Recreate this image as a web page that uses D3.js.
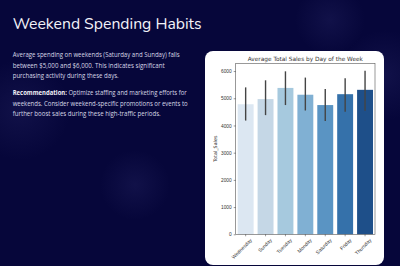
<!DOCTYPE html>
<html>
<head>
<meta charset="utf-8">
<script src="https://cdn.jsdelivr.net/npm/d3@7"></script>
<style>
  html, body { margin: 0; padding: 0; background: #07073a; overflow: hidden; }
  svg { display: block; }
</style>
</head>
<body>
<div id="page"></div>
<script>
// data
const days = ["Wednesday", "Sunday", "Tuesday", "Monday", "Saturday", "Friday", "Thursday"];
const avgSales = [4780, 4970, 5380, 5130, 4750, 5150, 5310];
const ciLow = [4180, 4380, 4750, 4550, 4160, 4500, 4540];
const ciHigh = [5400, 5660, 5990, 5760, 5340, 5740, 6010];
const yTicks = [0, 1000, 2000, 3000, 4000, 5000, 6000];
const barColors = ["#dce7f2", "#c5d7e6", "#a6c9de", "#80b0d3", "#5a94c3", "#3571aa", "#1e4f89"];

const para1 = [
  "Average spending on weekends (Saturday and Sunday) falls",
  "between $5,000 and $6,000. This indicates significant",
  "purchasing activity during these days."
];
const para2 = [
  ["Recommendation:", " Optimize staffing and marketing efforts for"],
  ["", "weekends. Consider weekend-specific promotions or events to"],
  ["", "further boost sales during these high-traffic periods."]
];
// measured line widths in the reference
const para1W = [167, 152, 106];
const para2W = [174, 175, 148];

const W = 400, H = 266;
const svg = d3.select("#page").append("svg")
  .attr("width", W).attr("height", H);

// background glow
const defs = svg.append("defs");
const glow = defs.append("radialGradient").attr("id", "glow");
glow.append("stop").attr("offset", "0%").attr("stop-color", "#262664").attr("stop-opacity", 0.35);
glow.append("stop").attr("offset", "100%").attr("stop-color", "#262664").attr("stop-opacity", 0);
svg.append("rect").attr("width", W).attr("height", H).attr("fill", "#06063a");
[[20, 110, 50], [135, 185, 35], [385, 75, 45], [330, 20, 35]].forEach(g => {
  svg.append("circle").attr("cx", g[0]).attr("cy", g[1]).attr("r", g[2]).attr("fill", "url(#glow)");
});

// heading + text
svg.append("text")
  .attr("x", 12.7).attr("y", 29)
  .attr("fill", "#f2f2f8")
  .attr("textLength", 189).attr("lengthAdjust", "spacingAndGlyphs")
  .style("font-family", "'Nunito', 'Open Sans', sans-serif")
  .style("font-size", "16.5px")
  .text("Weekend Spending Habits");

const txt = svg.append("g")
  .attr("fill", "#d8d8e6")
  .style("font-family", "'Open Sans', sans-serif")
  .style("font-size", "6.4px");

para1.forEach((l, i) => {
  txt.append("text").attr("x", 12.7).attr("y", 57 + i * 10.6)
    .attr("textLength", para1W[i]).attr("lengthAdjust", "spacingAndGlyphs")
    .text(l);
});
para2.forEach((l, i) => {
  const t = txt.append("text").attr("x", 12.7).attr("y", 95 + i * 10.6)
    .attr("textLength", para2W[i]).attr("lengthAdjust", "spacingAndGlyphs");
  if (l[0]) t.append("tspan").attr("font-weight", "bold").attr("fill", "#f0f0f6").text(l[0]);
  t.append("tspan").text(l[1]);
});

// card
svg.append("rect")
  .attr("x", 205).attr("y", 51)
  .attr("width", 179).attr("height", 214)
  .attr("rx", 8)
  .attr("fill", "#ffffff");

// chart
const plot = {left: 235.7, right: 375, top: 63.3, bottom: 234.3};
const x = d3.scaleBand()
  .domain(days)
  .range([plot.left, plot.right])
  .paddingInner(0.2).paddingOuter(0.1);
const y = d3.scaleLinear()
  .domain([0, 6285])
  .range([plot.bottom, plot.top]);

const chart = svg.append("g").style("font-family", "'DejaVu Sans', sans-serif");

chart.selectAll("rect.bar")
  .data(days)
  .join("rect")
  .attr("class", "bar")
  .attr("x", d => x(d))
  .attr("width", x.bandwidth())
  .attr("y", (d, i) => y(avgSales[i]))
  .attr("height", (d, i) => y(0) - y(avgSales[i]))
  .attr("fill", (d, i) => barColors[i]);

chart.selectAll("line.err")
  .data(days)
  .join("line")
  .attr("class", "err")
  .attr("x1", d => x(d) + x.bandwidth() / 2)
  .attr("x2", d => x(d) + x.bandwidth() / 2)
  .attr("y1", (d, i) => y(ciLow[i]))
  .attr("y2", (d, i) => y(ciHigh[i]))
  .attr("stroke", "#444")
  .attr("stroke-width", 1.4);

// frame
chart.append("rect")
  .attr("x", plot.left).attr("y", plot.top)
  .attr("width", plot.right - plot.left).attr("height", plot.bottom - plot.top)
  .attr("fill", "none").attr("stroke", "#555").attr("stroke-width", 0.6);

const yAxis = chart.append("g")
  .attr("transform", `translate(${plot.left},0)`)
  .call(d3.axisLeft(y).tickValues(yTicks).tickSize(2).tickPadding(2).tickFormat(d3.format("d")));
yAxis.select(".domain").remove();
yAxis.selectAll("text").attr("fill", "#333").style("font-size", "4.8px");
yAxis.selectAll("line").attr("stroke", "#333").attr("stroke-width", 0.5);

const xAxis = chart.append("g")
  .attr("transform", `translate(0,${plot.bottom})`)
  .call(d3.axisBottom(x).tickSize(2).tickPadding(1));
xAxis.select(".domain").remove();
xAxis.selectAll("line").attr("stroke", "#333").attr("stroke-width", 0.5);
xAxis.selectAll("text")
  .attr("fill", "#333")
  .style("font-size", "5px")
  .attr("text-anchor", "end")
  .attr("dy", "0.6em")
  .attr("transform", "translate(2.5,2) rotate(-45)");

chart.append("text")
  .attr("x", (plot.left + plot.right) / 2).attr("y", 60.5)
  .attr("text-anchor", "middle")
  .attr("fill", "#333")
  .style("font-size", "5.8px")
  .text("Average Total Sales by Day of the Week");

chart.append("text")
  .attr("transform", `translate(216.5,${(plot.top + plot.bottom) / 2}) rotate(-90)`)
  .attr("text-anchor", "middle")
  .attr("fill", "#333")
  .style("font-size", "4.8px")
  .text("Total_Sales");
</script>
</body>
</html>
